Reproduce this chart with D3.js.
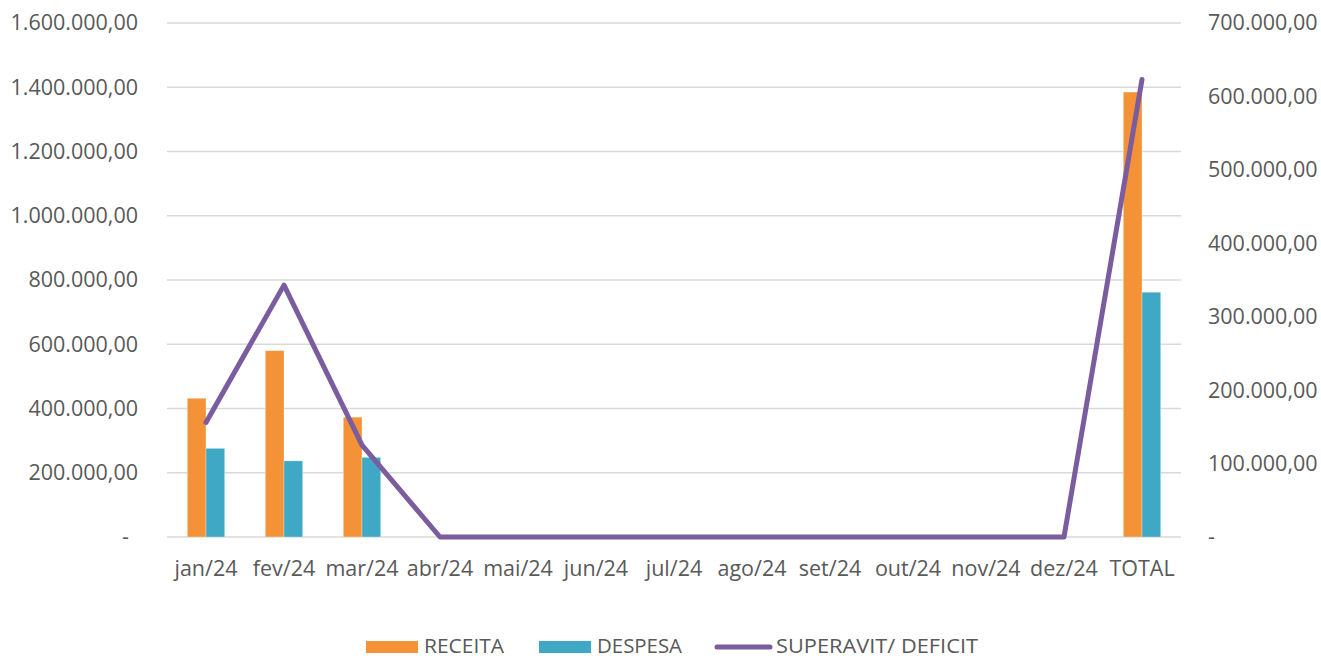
<!DOCTYPE html>
<html>
<head>
<meta charset="utf-8">
<script src="https://cdn.jsdelivr.net/npm/d3@7"></script>
<style>
  body { margin: 0; background: #fff; }
  text { font-family: "Open Sans", sans-serif; fill: #595959; }
</style>
</head>
<body>
<div id="chart"></div>
<script>
// data
var categories = ["jan/24", "fev/24", "mar/24", "abr/24", "mai/24", "jun/24", "jul/24",
                  "ago/24", "set/24", "out/24", "nov/24", "dez/24", "TOTAL"];
var receita = [432000, 580000, 373000, 0, 0, 0, 0, 0, 0, 0, 0, 0, 1385000];
var despesa = [276000, 237000, 248000, 0, 0, 0, 0, 0, 0, 0, 0, 0, 762000];
var superavit = [156000, 343000, 125000, 0, 0, 0, 0, 0, 0, 0, 0, 0, 623000];
var leftTicks = [0, 200000, 400000, 600000, 800000, 1000000, 1200000, 1400000, 1600000];
var rightTicks = [0, 100000, 200000, 300000, 400000, 500000, 600000, 700000];
var seriesNames = ["RECEITA", "DESPESA", "SUPERAVIT/ DEFICIT"];

var colors = {RECEITA: "#F39237", DESPESA: "#3FA9C5", line: "#7A5C9F"};

var width = 1321, height = 659;
var plot = {left: 167, right: 1181, top: 23, bottom: 537};

var br = d3.formatLocale({decimal: ",", thousands: ".", grouping: [3], currency: ["R$", ""]});
var fmt = br.format(",.2f");
function tickLabel(v) { return v === 0 ? "-" : fmt(v); }

var svg = d3.select("#chart").append("svg")
    .attr("width", width)
    .attr("height", height);

// scales
var x = d3.scaleBand()
    .domain(categories)
    .range([plot.left, plot.right]);
var y = d3.scaleLinear()
    .domain([0, 1600000])
    .range([plot.bottom, plot.top]);
var y2 = d3.scaleLinear()
    .domain([0, 700000])
    .range([plot.bottom, plot.top]);

var groupW = x.bandwidth() * 0.48;
var xSub = d3.scaleBand()
    .domain(["RECEITA", "DESPESA"])
    .range([-groupW / 2, groupW / 2]);

// gridlines
svg.append("g")
    .selectAll("line")
    .data(leftTicks)
    .enter().append("line")
    .attr("x1", plot.left)
    .attr("x2", plot.right)
    .attr("y1", function(d) { return y(d); })
    .attr("y2", function(d) { return y(d); })
    .attr("stroke", "#d9d9d9")
    .attr("stroke-width", 1.5);

// left axis
var leftAxis = svg.append("g")
    .attr("transform", "translate(" + (plot.left - 29) + ",0)")
    .call(d3.axisLeft(y).tickValues(leftTicks).tickFormat(tickLabel).tickSize(0).tickPadding(0));
leftAxis.select(".domain").remove();
leftAxis.selectAll("text")
    .style("font-size", "21.5px")
    .attr("fill", "#595959")
    .attr("dx", function(d) { return d === 0 ? -9 : 0; });

// right axis
var rightAxis = svg.append("g")
    .attr("transform", "translate(" + (plot.right + 27) + ",0)")
    .call(d3.axisRight(y2).tickValues(rightTicks).tickFormat(tickLabel).tickSize(0).tickPadding(0));
rightAxis.select(".domain").remove();
rightAxis.selectAll("text")
    .style("font-size", "21.5px")
    .attr("fill", "#595959");

// x axis labels
var xAxis = svg.append("g")
    .attr("transform", "translate(0," + (plot.bottom + 39) + ")")
    .call(d3.axisBottom(x).tickSize(0).tickPadding(0));
xAxis.select(".domain").remove();
xAxis.selectAll("text")
    .style("font-size", "21.5px")
    .attr("fill", "#595959")
    .attr("dy", "0");

// bars
var bars = [];
categories.forEach(function(c, i) {
    bars.push({cat: c, key: "RECEITA", value: receita[i]});
    bars.push({cat: c, key: "DESPESA", value: despesa[i]});
});
svg.append("g")
    .selectAll("rect")
    .data(bars.filter(function(d) { return d.value > 0; }))
    .enter().append("rect")
    .attr("x", function(d) { return x(d.cat) + x.bandwidth() / 2 + xSub(d.key); })
    .attr("width", xSub.bandwidth())
    .attr("y", function(d) { return y(d.value); })
    .attr("height", function(d) { return y(0) - y(d.value); })
    .attr("fill", function(d) { return colors[d.key]; })
    .attr("stroke", "#fff")
    .attr("stroke-opacity", 0.5)
    .attr("stroke-width", 0.6);

// line on secondary axis
var line = d3.line()
    .x(function(d, i) { return x(categories[i]) + x.bandwidth() / 2; })
    .y(function(d) { return y2(d); });
svg.append("path")
    .datum(superavit)
    .attr("d", line)
    .attr("fill", "none")
    .attr("stroke", colors.line)
    .attr("stroke-width", 5)
    .attr("stroke-linejoin", "round")
    .attr("stroke-linecap", "round");

// legend
var legend = svg.append("g").attr("transform", "translate(0,647)");
var legendItems = [
    {name: seriesNames[0], x: 366, type: "rect", color: colors.RECEITA, w: 80},
    {name: seriesNames[1], x: 539, type: "rect", color: colors.DESPESA, w: 85},
    {name: seriesNames[2], x: 715, type: "line", color: colors.line, w: 202}
];
legendItems.forEach(function(d) {
    if (d.type === "rect") {
        legend.append("rect")
            .attr("x", d.x).attr("y", -6)
            .attr("width", 52).attr("height", 12)
            .attr("fill", d.color);
    } else {
        legend.append("line")
            .attr("x1", d.x + 2).attr("x2", d.x + 55)
            .attr("y1", 0).attr("y2", 0)
            .attr("stroke", d.color)
            .attr("stroke-width", 5)
            .attr("stroke-linecap", "round");
    }
    legend.append("text")
        .attr("x", d.x + (d.type === "rect" ? 58 : 61))
        .attr("y", 6)
        .attr("textLength", d.w)
        .attr("lengthAdjust", "spacingAndGlyphs")
        .style("font-size", "20px")
        .text(d.name);
});
</script>
</body>
</html>
